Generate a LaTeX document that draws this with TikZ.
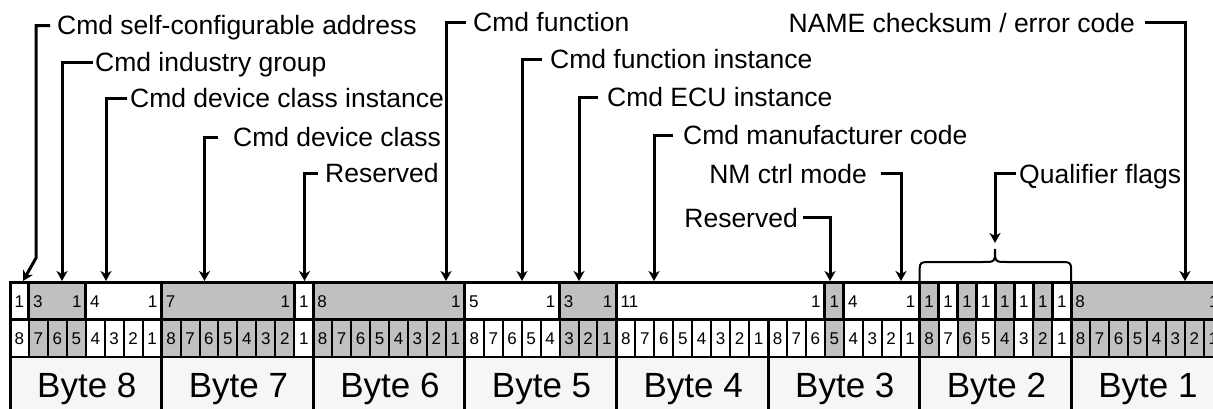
\documentclass[tikz,border=0pt]{standalone}
\usepackage{fontspec}
\setmainfont{Liberation Sans}
\usetikzlibrary{arrows.meta}

\definecolor{fieldgray}{RGB}{192,192,192}
\definecolor{bytebg}{RGB}{245,247,247}

\tikzset{
	fieldline/.style={line width=3pt},
	bitline/.style={line width=2pt},
	byteline/.style={line width=3pt},
	bitnum/.style={inner sep=0pt, anchor=base, font=\fontsize{17}{20}\selectfont},
	bytelbl/.style={inner sep=0pt, anchor=base, font=\fontsize{35}{40}\selectfont},
	fieldlbl/.style={inner ysep=0pt, inner xsep=7pt, text height=22pt, text depth=3.4pt, font=\fontsize{26.5}{30}\selectfont},
	lead/.style={line width=3pt, -{Stealth[length=10pt,width=11pt,inset=3pt]}},
	bracel/.style={line width=2pt},
}

% start bit / width / colour / name
\def\fieldlist{0/1/white/sca, 1/3/fieldgray/ig, 4/4/white/dci, 8/7/fieldgray/dc, 15/1/white/rsvA,
	16/8/fieldgray/fn, 24/5/white/fi, 29/3/fieldgray/ecu, 32/11/white/mfr, 43/1/fieldgray/rsvB,
	44/4/white/nm, 48/1/fieldgray/qa, 49/1/white/qb, 50/1/fieldgray/qc, 51/1/white/qd,
	52/1/fieldgray/qe, 53/1/white/qf, 54/1/fieldgray/qg, 55/1/white/qh, 56/8/fieldgray/cs}

\begin{document}
\begin{tikzpicture}[x=1pt, y=-1pt]
	\useasboundingbox (0,0) rectangle (1213,409);
	\clip (0,0) rectangle (1213,409);

	% byte row background
	\fill[bytebg] (10,357) rectangle (1226,409);

	% fill fields
	\foreach \s/\n/\c/\nm in \fieldlist {
		\pgfmathsetmacro\xl{10+18.95*\s}
		\pgfmathsetmacro\xr{10+18.95*(\s+\n)}
		\fill[\c] (\xl,282) rectangle (\xr,357);
	}

	% draw bit cells
	\foreach \i in {0,...,63} {
		\pgfmathtruncatemacro\b{8-mod(\i,8)}
		\draw[bitline] (10+18.95*\i,319) rectangle (28.95+18.95*\i,357);
		\node[bitnum] (bit\i) at (19.475+18.95*\i,344) {\b};
	}
	\draw[line width=1pt] (10,357) -- (1226,357);

	% draw bytes
	\foreach \k in {0,...,7} {
		\pgfmathtruncatemacro\byten{8-\k}
		\draw[byteline] (10+151.6*\k,319) -- (10+151.6*\k,409);
		\node[bytelbl] (byte\byten) at (86.8+151.6*\k,397) {Byte \byten};
	}

	% draw fields
	\foreach \s/\n/\c/\nm in \fieldlist {
		\pgfmathsetmacro\xl{10+18.95*\s}
		\pgfmathsetmacro\xr{10+18.95*(\s+\n)}
		\draw[fieldline] (\xl,282) rectangle (\xr,319);
		\ifnum\n=1
			\node[bitnum] (\nm-w) at ({(\xl+\xr)/2},307) {1};
		\else
			\node[bitnum, anchor=base west] (\nm-w) at (\xl+4,307) {\n};
			\node[bitnum, anchor=base east] (\nm-e) at (\xr-4,307) {1};
		\fi
	}

	% brace over qualifier flags
	\draw[bracel] (919.6,282) -- (919.6,274) .. controls (919.6,262) .. (931.6,262) -- (983,262)
		.. controls (995,262) .. (995,249) .. controls (995,262) .. (1007,262) -- (1059.2,262)
		.. controls (1071.2,262) .. (1071.2,274) -- (1071.2,282);

	% draw labels
	\node[fieldlbl, anchor=base west] (sca-l) at (50,35) {Cmd self-configurable address};
	\node[fieldlbl, anchor=base west, inner xsep=2pt] (ig-l) at (93,71.7) {Cmd industry group};
	\node[fieldlbl, anchor=base west, inner xsep=3pt] (dci-l) at (127,108) {Cmd device class instance};
	\node[fieldlbl, anchor=base west, inner xsep=15pt] (dc-l) at (218,146.7) {Cmd device class};
	\node[fieldlbl, anchor=base west] (rsvA-l) at (318,182.7) {Reserved};
	\node[fieldlbl, anchor=base west] (fn-l) at (466,31.7) {Cmd function};
	\node[fieldlbl, anchor=base west, inner xsep=8pt] (fi-l) at (542,69) {Cmd function instance};
	\node[fieldlbl, anchor=base west, inner xsep=9pt] (ecu-l) at (598,107) {Cmd ECU instance};
	\node[fieldlbl, anchor=base west, inner xsep=10pt] (mfr-l) at (673,145) {Cmd manufacturer code};
	\node[fieldlbl, anchor=base east, inner xsep=14pt] (nm-l) at (881,183) {NM ctrl mode};
	\node[fieldlbl, anchor=base east, inner xsep=5pt] (rsvB-l) at (803,227) {Reserved};
	\node[fieldlbl, anchor=base west, inner xsep=3pt] (q-l) at (1016,183) {Qualifier flags};
	\node[fieldlbl, anchor=base east, inner xsep=10pt] (cs-l) at (1145,32.3) {NAME checksum / error code};

	% arrow ends
	\coordinate (sca-k) at (36,258);
	\coordinate (sca-t) at (23,281);
	\coordinate (ig-t) at (62,281);
	\coordinate (dci-t) at (106,281);
	\coordinate (dc-t) at (204.5,281);
	\coordinate (rsvA-t) at (304.5,281);
	\coordinate (fn-t) at (446,281);
	\coordinate (fi-t) at (522,281);
	\coordinate (ecu-t) at (579,281);
	\coordinate (mfr-t) at (654,281);
	\coordinate (nm-t) at (901,281);
	\coordinate (rsvB-t) at (830,281);
	\coordinate (q-t) at (995,243);
	\coordinate (cs-t) at (1185,281);

	% draw arrows
	\draw[lead] (sca-l.west) -| (sca-k) -- (sca-t);
	\foreach \nm in {ig,dci,dc,rsvA,fn,fi,ecu,mfr,q}
		\draw[lead] (\nm-l.west) -| (\nm-t);
	\foreach \nm in {nm,rsvB,cs}
		\draw[lead] (\nm-l.east) -| (\nm-t);
\end{tikzpicture}
\end{document}
